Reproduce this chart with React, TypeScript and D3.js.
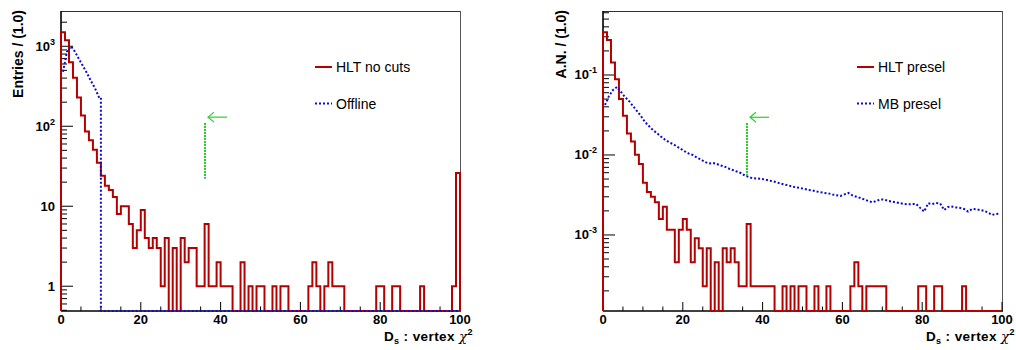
import React from "react";
import * as d3 from "d3";

// ---------- data ----------
const NBINS = 100;
const xTicksMajor = [0, 20, 40, 60, 80, 100];

// left panel: entries per bin (bin width 1.0, 0..100)
const hltNoCuts = [
  1500, 1190, 630, 405, 228, 136, 86, 67, 51, 35,
  24, 18, 16, 13, 8, 10, 10, 6, 3, 5,
  9, 4, 3, 4, 3, 1, 4, 0, 3, 0,
  4, 2, 3, 3, 1, 1, 6, 1, 1, 2,
  1, 1, 1, 0, 0, 2, 0, 1, 0, 1,
  1, 0, 0, 1, 0, 1, 1, 0, 0, 0,
  0, 0, 1, 2, 1, 0, 1, 2, 1, 1,
  1, 0, 0, 0, 0, 0, 0, 0, 0, 1,
  1, 0, 0, 1, 1, 0, 0, 0, 0, 0,
  1, 0, 0, 0, 0, 0, 0, 0, 1, 26,
];
const offline = [
  480, 855, 1000, 855, 692, 567, 463, 368, 300, 232,
  0, 0, 0, 0, 0, 0, 0, 0, 0, 0,
  0, 0, 0, 0, 0, 0, 0, 0, 0, 0,
  0, 0, 0, 0, 0, 0, 0, 0, 0, 0,
  0, 0, 0, 0, 0, 0, 0, 0, 0, 0,
  0, 0, 0, 0, 0, 0, 0, 0, 0, 0,
  0, 0, 0, 0, 0, 0, 0, 0, 0, 0,
  0, 0, 0, 0, 0, 0, 0, 0, 0, 0,
  0, 0, 0, 0, 0, 0, 0, 0, 0, 0,
  0, 0, 0, 0, 0, 0, 0, 0, 0, 0,
];

// right panel: area-normalised
const hltPresel = [
  0.342, 0.274, 0.143, 0.0883, 0.050, 0.0309, 0.0186, 0.0147, 0.0101, 0.0077,
  0.0045, 0.00345, 0.0030, 0.00256, 0.00158, 0.00226, 0.00116, 0.00116, 0.000456, 0.00116,
  0.00158, 0.00116, 0.000456, 0.00091, 0.000684, 0.000228, 0.000684, 0, 0.000456, 0,
  0.000684, 0.000456, 0.000684, 0.000456, 0.000228, 0.000228, 0.00137, 0.000228, 0.000228, 0.000228,
  0.000228, 0.000228, 0.000228, 0, 0, 0.000228, 0, 0.000228, 0, 0.000228,
  0.000228, 0, 0, 0.000228, 0, 0, 0.000228, 0, 0, 0,
  0, 0, 0.000228, 0.000456, 0.000228, 0, 0.000228, 0.000228, 0.000228, 0.000228,
  0.000228, 0, 0, 0, 0, 0, 0, 0, 0, 0.000228,
  0.000228, 0, 0, 0.000228, 0.000228, 0, 0, 0, 0, 0,
  0.000228, 0, 0, 0, 0, 0, 0, 0, 0, 0,
];
const mbPresel = [
  0.0422, 0.0546, 0.0649, 0.0708, 0.0613, 0.0531, 0.0473, 0.0410, 0.0355, 0.0307,
  0.0259, 0.0230, 0.0205, 0.0188, 0.0170, 0.0156, 0.0145, 0.0137, 0.0128, 0.0119,
  0.0111, 0.0104, 0.0100, 0.00931, 0.00879, 0.00818, 0.00783, 0.00794, 0.00772, 0.00739,
  0.00714, 0.00678, 0.00649, 0.00622, 0.00596, 0.00554, 0.00531, 0.00511, 0.00508, 0.00504,
  0.00494, 0.00480, 0.00469, 0.00456, 0.00440, 0.00428, 0.00416, 0.00402, 0.00393, 0.00385,
  0.00376, 0.00365, 0.00360, 0.00350, 0.00342, 0.00335, 0.00331, 0.00321, 0.00314, 0.00307,
  0.00321, 0.00335, 0.00312, 0.00301, 0.00290, 0.00278, 0.00266, 0.00256, 0.00266, 0.00278,
  0.00277, 0.00266, 0.00261, 0.00255, 0.00249, 0.00244, 0.00241, 0.00244, 0.00244, 0.00218,
  0.00196, 0.00249, 0.00244, 0.00251, 0.00248, 0.00205, 0.00224, 0.00226, 0.00221, 0.00218,
  0.00211, 0.00196, 0.00211, 0.00210, 0.00205, 0.00200, 0.00191, 0.00178, 0.00183, 0.00185,
];

const cutValue = 36;
const leftCut = { top: 110, bottom: 22, arrow: 130 };
const rightCut = { top: 0.0251, bottom: 0.00531, arrow: 0.0296 };

const leftYDomain = [0.49, 2760];
const rightYDomain = [1.12e-4, 0.631];
const leftYMajor = [1, 10, 100, 1000];
const leftYLabels = [["1", ""], ["10", ""], ["10", "2"], ["10", "3"]];
const rightYMajor = [0.001, 0.01, 0.1];
const rightYLabels = [["10", "-3"], ["10", "-2"], ["10", "-1"]];

// ---------- style ----------
const FONT = "'Liberation Sans', Arial, Helvetica, sans-serif";
const RED = "#b50000";
const BLUE = "#0a0ad0";
const GREEN = "#2ccc2c";

type Series = { values: number[]; kind: "step" | "line"; color: string; dash?: string; label: string };

function Panel(props: {
  x0: number; x1: number; y0: number; y1: number;
  yDomain: number[]; yMajor: number[]; yLabels: string[][];
  yTitle: string; yTitleX: number;
  series: Series[]; cut: { top: number; bottom: number; arrow: number };
  legendX: number;
}) {
  const { x0, x1, y0, y1 } = props;
  const x = d3.scaleLinear().domain([0, NBINS]).range([x0, x1]);
  const y = d3.scaleLog().domain(props.yDomain).range([y1, y0]);
  const yv = (v: number) => (v > 0 ? Math.max(y0, Math.min(y1, y(v))) : y1);

  const stepPath = (vals: number[]) => {
    const p = d3.path();
    p.moveTo(x(0), y1);
    vals.forEach((v, i) => {
      p.lineTo(x(i), yv(v));
      p.lineTo(x(i + 1), yv(v));
    });
    p.lineTo(x(NBINS), y1);
    return p.toString();
  };
  const linePath = (vals: number[]) => {
    const pts: [number, number][] = [];
    vals.forEach((v, i) => {
      if (v > 0) {
        pts.push([x(i + 0.5), yv(v)]);
      } else {
        if (i > 0 && vals[i - 1] > 0) {
          pts.push([x(i), yv(vals[i - 1])]);
          pts.push([x(i), y1]);
        }
        pts.push([x(i + 0.5), y1]);
      }
    });
    return d3.line()(pts) || "";
  };

  // minor y ticks
  const [lo, hi] = props.yDomain;
  const minorY: number[] = [];
  for (let e = Math.floor(Math.log10(lo)); e <= Math.ceil(Math.log10(hi)); e++) {
    for (let k = 2; k <= 9; k++) {
      const v = k * Math.pow(10, e);
      if (v >= lo && v <= hi) minorY.push(v);
    }
  }
  const minorX = d3.range(0, 101, 5).filter((v) => v % 20 !== 0);

  const cx = Math.round(x(cutValue));
  const ay = y(props.cut.arrow);
  return (
    <g>
      {/* frame */}
      <line x1={x0} x2={x1} y1={y0 + 0.5} y2={y0 + 0.5} stroke="#333" strokeWidth={1} />
      <line x1={x1 + 0.5} x2={x1 + 0.5} y1={y0} y2={y1} stroke="#555" strokeWidth={1} />
      {/* axes */}
      <line x1={x0} x2={x0} y1={y0} y2={y1} stroke="#000" strokeWidth={1.6} />
      <line x1={x0} x2={x1 + 1} y1={y1} y2={y1} stroke="#000" strokeWidth={1.4} />
      {props.yMajor.map((v) => (
        <line key={"ym" + v} x1={x0} x2={x0 + 12} y1={y(v)} y2={y(v)} stroke="#000" strokeWidth={1} />
      ))}
      {minorY.map((v) => (
        <line key={"yn" + v} x1={x0} x2={x0 + 6} y1={y(v)} y2={y(v)} stroke="#000" strokeWidth={1} />
      ))}
      {xTicksMajor.map((v) => (
        <line key={"xm" + v} x1={x(v)} x2={x(v)} y1={y1} y2={y1 - 9} stroke="#000" strokeWidth={1} />
      ))}
      {minorX.map((v) => (
        <line key={"xn" + v} x1={x(v)} x2={x(v)} y1={y1} y2={y1 - 4.5} stroke="#000" strokeWidth={1} />
      ))}
      {/* series */}
      {props.series.map((s, i) => (
        <path key={i} d={s.kind === "step" ? stepPath(s.values) : linePath(s.values)}
          fill="none" stroke={s.color} strokeWidth={2} strokeDasharray={s.dash}
          strokeLinejoin="miter" />
      ))}
      {/* cut line and arrow */}
      <line x1={cx} x2={cx} y1={y(props.cut.top)} y2={y(props.cut.bottom)}
        stroke={GREEN} strokeWidth={2} strokeDasharray="2,1" />
      <g stroke={GREEN} strokeWidth={1.2} fill="none">
        <line x1={cx + 3} x2={cx + 22} y1={ay} y2={ay} />
        <polyline points={`${cx + 9},${ay - 5} ${cx + 3},${ay} ${cx + 9},${ay + 5}`} />
      </g>
      {/* tick labels */}
      {xTicksMajor.map((v) => (
        <text key={"xl" + v} x={x(v)} y={y1 + 13} textAnchor="middle" fontSize={13}
          fontWeight="bold" fontFamily={FONT}>{v}</text>
      ))}
      {props.yMajor.map((v, i) => (
        <text key={"yl" + v} x={x0 - 6} y={y(v) + 4.5} textAnchor="end" fontSize={13}
          fontWeight="bold" fontFamily={FONT}>
          {props.yLabels[i][0]}
          {props.yLabels[i][1] && (
            <tspan fontSize={9} dy={-6}>{props.yLabels[i][1]}</tspan>
          )}
        </text>
      ))}
      {/* titles */}
      <text transform={`translate(${props.yTitleX},${y0 - 1}) rotate(-90)`} textAnchor="end"
        fontSize={14} fontWeight="bold" fontFamily={FONT}>{props.yTitle}</text>
      <text x={x1 + 13} y={y1 + 30} textAnchor="end" fontSize={13.5} fontWeight="bold"
        fontFamily={FONT} letterSpacing={0.4}>
        D<tspan fontSize={9} dy={3}>s</tspan>
        <tspan dy={-3}> : vertex </tspan>
        <tspan fontWeight="normal" fontStyle="italic" fontFamily="'DejaVu Serif', serif">χ</tspan>
        <tspan fontSize={9} dy={-6}>2</tspan>
      </text>
      {/* legend */}
      {props.series.map((s, i) => (
        <g key={"lg" + i}>
          <line x1={props.legendX} x2={props.legendX + 17} y1={67 + i * 36.5} y2={67 + i * 36.5}
            stroke={s.color} strokeWidth={2} strokeDasharray={s.dash} />
          <text x={props.legendX + 21} y={72 + i * 36.5} fontSize={14} fontFamily={FONT}>{s.label}</text>
        </g>
      ))}
    </g>
  );
}

export default function App() {
  return (
    <svg width={1016} height={350} style={{ position: "absolute", left: 0, top: 0, background: "#fff" }}>
      <rect width={1016} height={350} fill="#fff" />
      <Panel x0={61} x1={460} y0={11} y1={311} yDomain={leftYDomain}
        yMajor={leftYMajor} yLabels={leftYLabels} yTitle="Entries / (1.0)" yTitleX={23}
        series={[
          { values: hltNoCuts, kind: "step", color: RED, label: "HLT no cuts" },
          { values: offline, kind: "line", color: BLUE, dash: "2,2", label: "Offline" },
        ]}
        cut={leftCut} legendX={315} />
      <Panel x0={603} x1={1002} y0={11} y1={311} yDomain={rightYDomain}
        yMajor={rightYMajor} yLabels={rightYLabels} yTitle="A.N. / (1.0)" yTitleX={566}
        series={[
          { values: hltPresel, kind: "step", color: RED, label: "HLT presel" },
          { values: mbPresel, kind: "line", color: BLUE, dash: "2,2", label: "MB presel" },
        ]}
        cut={rightCut} legendX={857} />
    </svg>
  );
}
